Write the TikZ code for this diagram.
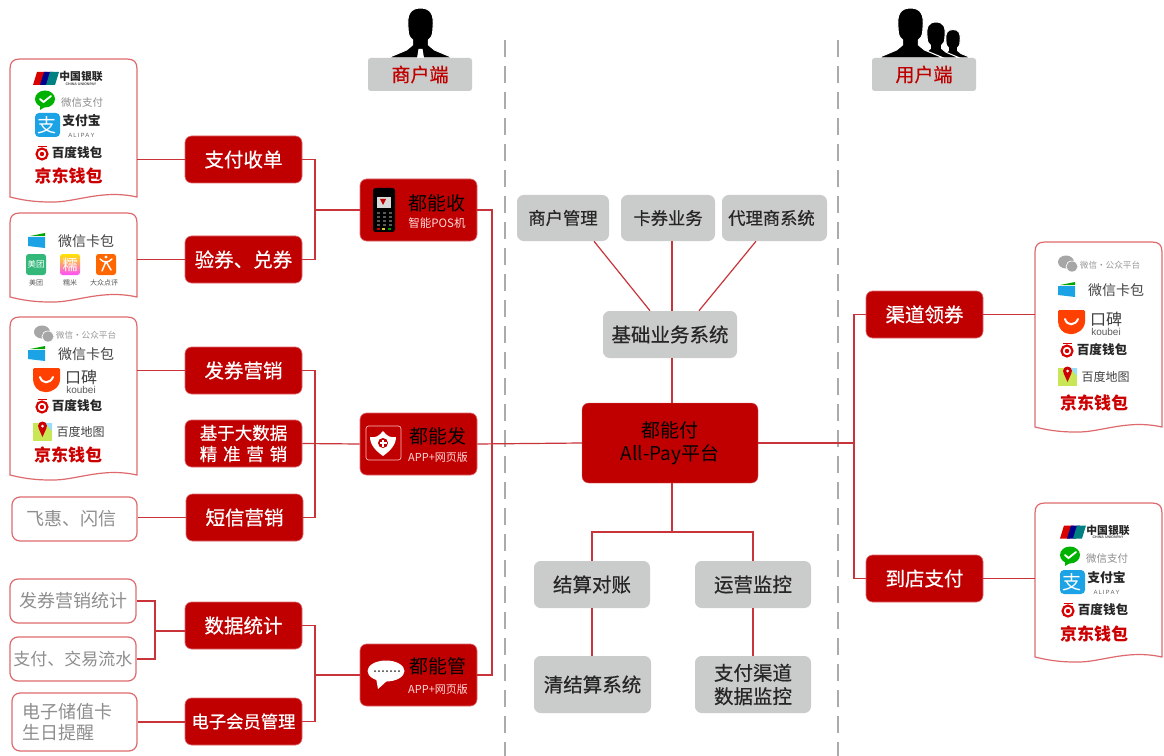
\documentclass[tikz,border=0pt]{standalone}
\usepackage{fontspec}
\setmainfont{Noto Sans CJK SC}
\newfontfamily\med[FakeBold=0.5]{Noto Sans CJK SC}
\newfontfamily\lat{Liberation Sans}
\usetikzlibrary{calc,shadings}
\definecolor{cred}{HTML}{C00000}
\definecolor{credline}{HTML}{C9343A}
\definecolor{cpink}{HTML}{DE6A6E}
\definecolor{cgray}{HTML}{CACCCB}
\definecolor{ctxt}{HTML}{8E8E8E}
\definecolor{cdark}{HTML}{444444}
\definecolor{cdash}{HTML}{ABABAB}
\definecolor{calipay}{HTML}{1BA3E6}
\newcommand\fs[1]{\pgfmathsetmacro\fsz{#1*0.75}\pgfmathsetmacro\fsb{#1*0.9}\fontsize{\fsz pt}{\fsb pt}\selectfont}
\newcounter{lc}
\newcommand\ltxt[5]{\stepcounter{lc}\node[inner sep=0pt,text=#4,font=\fs{#3},align=center] (lt\thelc) at (#1,#2) {#5};}
\tikzset{
 wh/.style 2 args={minimum width=#1*0.75pt,minimum height=#2*0.75pt,inner sep=0pt,align=center},
 redbox/.style={draw=cpink,line width=0.5pt,fill=cred,rounded corners=5pt,text=white,font=\med\fs{19.5}},
 graybox/.style={fill=cgray,rounded corners=5pt,text=black!85,font=\med\fs{19.5}},
 outbox/.style={draw=cpink,line width=0.9pt,fill=white,rounded corners=6pt,text=ctxt,font=\fs{18}},
 headbox/.style={fill=cgray,rounded corners=2pt,text=cred,font=\med\fs{19}},
 conn/.style={draw=credline,line width=0.9pt},
 divider/.style={draw=cdash,line width=1.1pt,dash pattern=on 12.75pt off 6.75pt},
 docline/.style={draw=cpink,line width=0.9pt,fill=white},
}
% wavy document shape
\newcommand\docshape[5]{%
 \pgfmathsetmacro\dcx{(#2+#4)/2}\pgfmathsetmacro\dcy{(#3+#5)/2}%
 \pgfmathsetmacro\dw{#4-#2}\pgfmathsetmacro\dh{#5-#3}%
 \node[wh={\dw}{\dh}] (#1) at (\dcx,\dcy) {};%
 \draw[docline] (#2,#5) -- (#2,#3+10) .. controls (#2,#3+3) and (#2+3,#3) .. (#2+10,#3) -- (#4-10,#3) .. controls (#4-3,#3) and (#4,#3+3) .. (#4,#3+10) -- (#4,#5)
   .. controls (#4-36,#5-8) and (#4-62,#5+6) .. (#2+40,#5+5) .. controls (#2+24,#5+5) and (#2+12,#5+3) .. (#2,#5) -- cycle;%
}
% logos
\newcommand\logoUP[2]{\begin{scope}[shift={(#1,#2)}]
 \fill[red!85!black] (4,-6.5) -- (14,-6.5) -- (10,6.5) -- (0,6.5) -- cycle;
 \fill[blue!55!black] (11,-6.5) -- (20,-6.5) -- (16,6.5) -- (7,6.5) -- cycle;
 \fill[teal] (17,-6.5) -- (26,-6.5) -- (22,6.5) -- (13,6.5) -- cycle;
 \ltxt{48}{-2}{10.8}{black!85}{\bfseries 中国银联}
 \ltxt{48}{5.5}{3.6}{black!70}{\lat\bfseries CHINA UNIONPAY}
 \end{scope}}
\newcommand\logoWX[2]{\begin{scope}[shift={(#1,#2)}]
 \fill[green!70!black] (10,-1) ellipse [x radius=10,y radius=8.5];
 \fill[green!70!black] (5,5) -- (5,10) -- (10,7) -- cycle;
 \draw[white,line width=1.4pt,line cap=round] (5,-1) -- (8.5,2) -- (16,-4);
 \ltxt{47}{3}{10.5}{ctxt}{微信支付}
 \end{scope}}
\newcommand\logoAli[2]{\begin{scope}[shift={(#1,#2)}]
 \fill[calipay,rounded corners=3pt] (0,-12) rectangle (25,12);
 \ltxt{12}{0}{19}{white}{支}
 \ltxt{46.5}{1}{12.8}{black!85}{\bfseries 支付宝\\[-2pt]{\fs{6}\color{black!60}\lat\mdseries A\,L\,I\,P\,A\,Y}}
 \end{scope}}
\newcommand\logoBD[2]{\begin{scope}[shift={(#1,#2)}]
 \draw[red!85!black,line width=1.6pt] (8,1) circle[radius=5.5];
 \fill[red!85!black] (8,1) circle[radius=2.2];
 \draw[red!85!black,line width=1.3pt] (3.5,-6.5) -- (12.5,-6.5);
 \ltxt{43}{0}{12.6}{black!85}{\bfseries 百度钱包}
 \end{scope}}
\newcommand\logoJD[2]{\ltxt{#1}{#2}{17}{red!80!black}{\bfseries 京东钱包}}
\newcommand\logoCard[2]{\begin{scope}[shift={(#1,#2)}]
 \fill[green!65!black] (2,-5) -- (17,-8) -- (17,-5) -- cycle;
 \fill[calipay] (0,-4) -- (17,-4) -- (17,7) -- (0,5) -- cycle;
 \ltxt{58}{0}{14}{cdark}{微信卡包}
 \end{scope}}
\newcommand\logoPub[2]{\begin{scope}[shift={(#1,#2)}]
 \fill[black!35] (8,-2) ellipse [x radius=8,y radius=6.5];
 \draw[white,line width=0.5pt,fill=black!35] (14,2.5) ellipse [x radius=6,y radius=5.5];
 \ltxt{52}{1}{8.6}{black!40}{微信·公众平台}
 \end{scope}}
\newcommand\logoKB[2]{\begin{scope}[shift={(#1,#2)}]
 \fill[orange!50!red,rounded corners=1pt] (0,-12) -- (27,-12) -- (27,-2) .. controls (27,8) and (18,12) .. (13,12) .. controls (5,12) and (0,6) .. (0,-2) -- cycle;
 \draw[white,line width=1.5pt,line cap=round] (7,-3) .. controls (9,4) and (17,4) .. (20,-3);
 \ltxt{48}{-3}{16}{black!75}{口碑}
 \ltxt{48}{9.5}{10}{black!65}{\lat koubei}
 \end{scope}}
\newcommand\logoMap[2]{\begin{scope}[shift={(#1,#2)}]
 \fill[yellow!70!green!70!white] (0,-9) rectangle (19,9);
 \fill[cyan!40] (12,-9) -- (19,-9) -- (19,-1) -- cycle;
 \fill[red!80!black] (9.5,-6) circle[radius=4.5];
 \fill[red!80!black] (5.5,-4) -- (13.5,-4) -- (9.5,5) -- cycle;
 \fill[white] (9.5,-6) circle[radius=1.5];
 \ltxt{47.5}{0}{12}{black!75}{百度地图}
 \end{scope}}
\newcommand\person[3]{\begin{scope}[shift={(#1,#2)},scale=#3]
 \draw[white,line width=0.8pt,fill=black] (-33,0) -- (-14,-8) -- (-8,-13) -- (-8,-18) .. controls (-13,-22) and (-12,-26) .. (-12.5,-30) .. controls (-14,-44) and (-10,-50) .. (0,-50) .. controls (10,-50) and (14,-44) .. (12.5,-30) .. controls (12,-26) and (13,-22) .. (8,-18) -- (8,-13) -- (14,-8) -- (33,0) -- cycle;
 \end{scope}}
\begin{document}
\begin{tikzpicture}[x=0.75pt,y=-0.75pt]
\useasboundingbox (0,0) rectangle (1164,756);
\fill[white] (0,0) rectangle (1164,756);

% dividers
\coordinate (da) at (505,40); \coordinate (db) at (505,756);
\coordinate (dc) at (838,40); \coordinate (dd) at (838,756);
\draw[divider] (da) -- (db);
\draw[divider] (dc) -- (dd);

% people
\person{420.5}{58}{1}
\fill[white] (418.5,49) -- (422.5,49) -- (424,58) -- (417,58) -- cycle;
\person{953}{58}{0.57}
\person{936}{58}{0.72}
\person{910.5}{58}{1}
\node[headbox,wh={104}{33}] (shead) at (420,74.5) {商户端};
\node[headbox,wh={104}{33}] (uhead) at (924,74.5) {用户端};

% left documents
\docshape{d1}{10}{59}{137}{197}
\docshape{d2}{10}{213}{137}{297}
\docshape{d3}{10}{317}{137}{475}

% left column red
\node[redbox,wh={117}{47}] (n1) at (243.5,159.5) {支付收单};
\node[redbox,wh={117}{47}] (n2) at (243.5,259.5) {验券、兑券};
\node[redbox,wh={117}{47}] (n3) at (243.5,370.5) {发券营销};
\node[redbox,wh={117}{47},font=\med\fs{17.5}] (n4) at (243.5,443.5) {基于大数据\\精\,\,准\,\,营\,\,销};
\node[redbox,wh={117}{47}] (n5) at (244.5,517.5) {短信营销};
\node[redbox,wh={117}{47}] (n6) at (243.5,625.5) {数据统计};
\node[redbox,wh={117}{47},font=\med\fs{17.3}] (n7) at (243.5,721.5) {电子会员管理};

% outlined boxes
\node[outbox,wh={125}{44}] (o1) at (74.5,519) {飞惠、闪信\hspace*{4.5pt}};
\node[outbox,wh={126}{44}] (o2) at (73,601) {发券营销统计};
\node[outbox,wh={126}{44},font=\fs{17}] (o3) at (73,659) {支付、交易流水};
\node[outbox,wh={125}{58},align=left] (o4) at (74.5,722) {电子储值卡\hspace*{10pt}\\生日提醒};

% product boxes
\node[redbox,wh={117}{62}] (p1) at (418.5,210) {};
\node[redbox,wh={117}{62}] (p2) at (418.5,444) {};
\node[redbox,wh={117}{62}] (p3) at (418.5,675) {};
\node[inner sep=0pt,text=black,font=\fs{19}] (p1t) at (437,203) {都能收};
\node[inner sep=0pt,text=white!85!red,font=\fs{11.5}] (p1s) at (437,223) {智能POS机};
\node[inner sep=0pt,text=black,font=\fs{19}] (p2t) at (437.5,436) {都能发};
\node[inner sep=0pt,text=white!85!red,font=\fs{11}] (p2s) at (438,457) {APP+网页版};
\node[inner sep=0pt,text=black,font=\fs{19}] (p3t) at (438,666) {都能管};
\node[inner sep=0pt,text=white!85!red,font=\fs{11}] (p3s) at (438,689) {APP+网页版};

% POS icon
\fill[black,rounded corners=2pt] (373,188) rectangle (395,232);
\fill[white!85!black] (377,197) rectangle (391,208);
\fill[cred] (380,199) -- (386,199) -- (383,205) -- cycle;
\foreach \yy in {213,217,221,225} \foreach \xx in {378,384,390} \fill[white!35!black] (\xx-1.5,\yy-1) rectangle (\xx+1.5,\yy+1);
\fill[red!80!black] (377,228) rectangle (380,230);
\fill[yellow!80!black] (382,228) rectangle (385,230);
\fill[green!60!black] (388,228) rectangle (391,230);

% shield icon
\draw[white!75!red,line width=0.5pt,rounded corners=2pt] (366,426) rectangle (401,460);
\fill[white] (370,437) .. controls (376,438) and (379,436) .. (383,431) .. controls (387,436) and (390,438) .. (396,437) .. controls (396,445) and (390,451) .. (383,456) .. controls (376,451) and (370,445) .. (370,437) -- cycle;
\fill[cred] (383,443) circle[radius=5];
\fill[white] (381.8,439.5) rectangle (384.2,446.5);
\fill[white] (379.5,441.8) rectangle (386.5,444.2);

% bubble icon
\fill[white] (386,671) ellipse [x radius=18.5,y radius=10.5];
\fill[white] (376,678) -- (378,689) -- (388,680) -- cycle;
\foreach \xx in {375,379,383,387,391,395,399} \fill[black!80] (\xx,671) circle[radius=1];

% logos in documents
\logoUP{33}{78.5}
\logoWX{35}{100}
\logoAli{35}{125}
\logoBD{34}{153}
\logoJD{68.5}{176}

\logoCard{28}{241}
\fill[teal!70!green!80!white,rounded corners=2pt] (26,254) rectangle (46,275);
\ltxt{36}{264.5}{8.5}{white}{美团}
\shade[top color=yellow!80!orange,bottom color=magenta!70,rounded corners=2pt] (60,254) rectangle (80,275);
\ltxt{70}{264.5}{15}{white}{糯}
\fill[orange!80!red,rounded corners=2pt] (96,254) rectangle (116,275);
\draw[white,line width=1.1pt,line cap=round] (100,259) .. controls (104,263) and (108,263) .. (112,259) (106,261.5) -- (102,271) (106,261.5) -- (111,270);
\fill[white] (106,257) circle[radius=1.6];
\ltxt{36}{283}{7}{black!65}{美团}
\ltxt{70}{283}{7}{black!65}{糯米}
\ltxt{104}{283}{7}{black!65}{大众点评}

\logoPub{34}{334}
\logoCard{28}{354}
\logoKB{33}{380}
\logoBD{34}{406}
\logoMap{33}{432}
\logoJD{68}{455}

% right column
\node[redbox,wh={117}{47}] (r1) at (924.5,314.5) {渠道领券};
\node[redbox,wh={117}{47}] (r2) at (924.5,578.5) {到店支付};
\docshape{d4}{1035}{242}{1162}{427}
\docshape{d5}{1035}{503}{1162}{657}
\logoPub{1058}{264}
\logoCard{1058}{290}
\logoKB{1058}{322}
\logoBD{1059}{350}
\logoMap{1058}{377}
\logoJD{1094}{403}
\logoUP{1060}{532}
\logoWX{1060}{556}
\logoAli{1060}{582}
\logoBD{1060}{610}
\logoJD{1094}{634}

% centre
\node[graybox,wh={92}{46},font=\med\fs{17.3}] (g1) at (563,218) {商户管理};
\node[graybox,wh={94}{46},font=\med\fs{17.3}] (g2) at (668,218) {卡券业务};
\node[graybox,wh={105}{46},font=\med\fs{17.3}] (g3) at (774.5,218) {代理商系统\hspace*{4.5pt}};
\node[graybox,wh={134}{47}] (g4) at (670,334.5) {基础业务系统};
\node[draw=cpink,line width=0.3pt,fill=cred,rounded corners=5pt,wh={176}{80},text=black,font=\fs{19}] (all) at (670,443) {都能付\\All-Pay平台};
\node[graybox,wh={116}{47}] (g5) at (592,584.5) {结算对账};
\node[graybox,wh={116}{47}] (g6) at (753,584.5) {运营监控};
\node[graybox,wh={117}{57}] (g7) at (592.5,684.5) {清结算系统};
\node[graybox,wh={116}{57}] (g8) at (753,684.5) {支付渠道\\数据监控};

% connectors : left
\draw[conn] (n1.west) -- (n1.west -| d1.east);
\draw[conn] (n2.west) -- (n2.west -| d2.east);
\draw[conn] (n3.west) -- (n3.west -| d3.east);
\draw[conn] (n5.west) -- (o1.east |- n5.west);
\coordinate (b0) at (155,631);
\draw[conn] (o2.east) -| (b0);
\draw[conn] (o3.east) -| (b0);
\draw[conn] (b0) -- (n6.west |- b0);
\draw[conn] (o4.east) -- (n7.west |- o4.east);
\coordinate (b1) at (315,210);
\coordinate (b2) at (315,444);
\coordinate (b3) at (315,675);
\draw[conn] (n1.east) -| (b1);
\draw[conn] (n2.east) -| (b1);
\draw[conn] (b1) -- (p1.west);
\draw[conn] (n3.east) -| (b2);
\draw[conn] (n5.east) -| (b2);
\draw[conn] (n4.east) -- (p2.west);
\draw[conn] (n6.east) -| (b3);
\draw[conn] (n7.east) -| (b3);
\draw[conn] (b3) -- (p3.west);
\coordinate (t) at (492,444);
\draw[conn] (p1.east) -| (t);
\draw[conn] (p3.east) -| (t);
\draw[conn] (p2.east) -- (all.west);
% connectors : centre
\coordinate (j) at (672,532);
\draw[conn] ([xshift=23.25pt]g1.south) -- ([xshift=-15pt]g4.north);
\draw[conn] (g2.south -| j) -- (g4.north -| j);
\draw[conn] ([xshift=-13.9pt]g3.south) -- ([xshift=21.75pt]g4.north);
\draw[conn] (g4.south -| j) -- (all.north -| j);
\draw[conn] (all.south -| j) -- (j);
\draw[conn] (j) -| (g5.north);
\draw[conn] (j) -| (g6.north);
\draw[conn] (g5.south) -- (g7.north -| g5.south);
\draw[conn] (g6.south) -- (g8.north);
% connectors : right
\coordinate (r) at (854,443);
\draw[conn] (all.east) -- (r);
\draw[conn] (r1.west) -| (r);
\draw[conn] (r2.west) -| (r);
\draw[conn] (r1.east) -- (r1.east -| d4.west);
\draw[conn] (r2.east) -- (r2.east -| d5.west);
\end{tikzpicture}
\end{document}
